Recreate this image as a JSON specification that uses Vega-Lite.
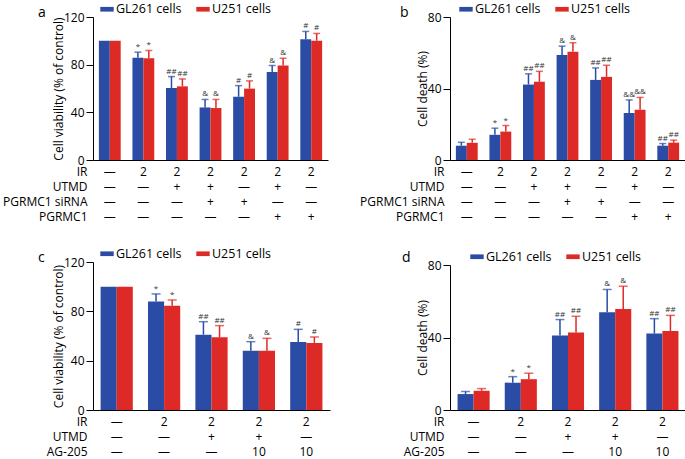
{
  "$schema": "https://vega.github.io/schema/vega-lite/v6.json",
  "background": "white",
  "padding": {"left": 2, "top": 2, "right": 0, "bottom": 0},
  "columns": 2,
  "spacing": {"row": 23, "column": 29},
  "resolve": {"scale": {"x": "independent", "y": "independent", "xOffset": "independent", "color": "independent"}, "legend": {"color": "independent"}},
  "concat": [
    {
      "width": 235, "height": 143,
      "title": {"text": "a", "dx": -55, "dy": 22},
      "data": {"values": [
        {"cond": "—|—|—|—", "cell": "GL261 cells", "value": 100, "err": null, "sig": ""},
        {"cond": "—|—|—|—", "cell": "U251 cells", "value": 100, "err": null, "sig": ""},
        {"cond": "2|—|—|—", "cell": "GL261 cells", "value": 85.7, "err": 90.5, "sig": "*"},
        {"cond": "2|—|—|—", "cell": "U251 cells", "value": 85.4, "err": 91.9, "sig": "*"},
        {"cond": "2|+|—|—", "cell": "GL261 cells", "value": 60.4, "err": 70, "sig": "##"},
        {"cond": "2|+|—|—", "cell": "U251 cells", "value": 61.8, "err": 68, "sig": "##"},
        {"cond": "2|+|+|—", "cell": "GL261 cells", "value": 44.1, "err": 50.8, "sig": "&"},
        {"cond": "2|+|+|—", "cell": "U251 cells", "value": 43.6, "err": 50.8, "sig": "&"},
        {"cond": "2|—|+|—", "cell": "GL261 cells", "value": 53.1, "err": 62.4, "sig": "#"},
        {"cond": "2|—|+|—", "cell": "U251 cells", "value": 59.9, "err": 66.4, "sig": "#"},
        {"cond": "2|+|—|+", "cell": "GL261 cells", "value": 73.9, "err": 79.3, "sig": "&"},
        {"cond": "2|+|—|+", "cell": "U251 cells", "value": 79.3, "err": 85.4, "sig": "&"},
        {"cond": "2|—|—|+", "cell": "GL261 cells", "value": 101.4, "err": 107.9, "sig": "#"},
        {"cond": "2|—|—|+", "cell": "U251 cells", "value": 100.1, "err": 106.2, "sig": "#"}
      ]},
      "encoding": {
        "x": {"field": "cond", "type": "nominal", "sort": null,
          "scale": {"paddingInner": 0.35, "paddingOuter": 0.175},
          "axis": {"title": ["IR", "UTMD", "PGRMC1 siRNA", "PGRMC1"], "titleX": -6, "titleY": 6.5, "titleAlign": "right", "titleBaseline": "top", "titleAngle": 0, "titleFontSize": 12, "titleLineHeight": 15,
            "labelExpr": "split(datum.value, '|')", "labelAngle": 0, "labelBaseline": "top", "labelLineHeight": 15, "labelPadding": 6.5, "labelFontSize": 12, "ticks": false, "tickSize": 0, "labelOverlap": false, "labelFlush": false, "labelBound": false}},
        "xOffset": {"field": "cell", "type": "nominal", "scale": {"domain": ["GL261 cells", "U251 cells"], "paddingInner": 0, "paddingOuter": 0}}
      },
      "layer": [
        {"mark": {"type": "bar"},
          "encoding": {
            "y": {"field": "value", "type": "quantitative", "scale": {"domain": [0, 120], "nice": false},
              "axis": {"values": [0, 40, 80, 120], "title": "Cell viability (% of control)", "titleFontSize": 12, "titlePadding": -2, "labelFontSize": 12, "tickSize": 7, "labelPadding": 2}},
            "color": {"field": "cell", "type": "nominal", "scale": {"domain": ["GL261 cells", "U251 cells"], "range": ["#2A4CA4", "#DE2A26"]},
              "legend": {"title": null, "legendX": 7, "legendY": -15}}
          }},
        {"mark": {"type": "rule", "strokeWidth": 1.5},
          "encoding": {"y": {"field": "value", "type": "quantitative"}, "y2": {"field": "err"}, "color": {"field": "cell", "type": "nominal"}}},
        {"mark": {"type": "tick", "size": 7, "thickness": 1.5},
          "encoding": {"y": {"field": "err", "type": "quantitative"}, "color": {"field": "cell", "type": "nominal"}}},
        {"mark": {"type": "text", "baseline": "bottom", "dy": -1, "fontSize": 8, "color": "#333"},
          "encoding": {"y": {"field": "err", "type": "quantitative"}, "text": {"field": "sig"}}}
      ]
    },
    {
      "width": 235, "height": 143,
      "title": {"text": "b", "dx": -50, "dy": 22},
      "data": {"values": [
        {"cond": "—|—|—|—", "cell": "GL261 cells", "value": 8.0, "err": 9.9, "sig": ""},
        {"cond": "—|—|—|—", "cell": "U251 cells", "value": 9.6, "err": 11.6, "sig": ""},
        {"cond": "2|—|—|—", "cell": "GL261 cells", "value": 14.1, "err": 17.8, "sig": "*"},
        {"cond": "2|—|—|—", "cell": "U251 cells", "value": 15.9, "err": 19.3, "sig": "*"},
        {"cond": "2|+|—|—", "cell": "GL261 cells", "value": 42.2, "err": 48.2, "sig": "##"},
        {"cond": "2|+|—|—", "cell": "U251 cells", "value": 43.8, "err": 49.6, "sig": "##"},
        {"cond": "2|+|+|—", "cell": "GL261 cells", "value": 58.8, "err": 63.7, "sig": "&"},
        {"cond": "2|+|+|—", "cell": "U251 cells", "value": 60.5, "err": 65.6, "sig": "&"},
        {"cond": "2|—|+|—", "cell": "GL261 cells", "value": 44.8, "err": 51.5, "sig": "##"},
        {"cond": "2|—|+|—", "cell": "U251 cells", "value": 46.5, "err": 53.0, "sig": "##"},
        {"cond": "2|+|—|+", "cell": "GL261 cells", "value": 26.3, "err": 33.6, "sig": "&&"},
        {"cond": "2|+|—|+", "cell": "U251 cells", "value": 28.1, "err": 35.0, "sig": "&&"},
        {"cond": "2|—|—|+", "cell": "GL261 cells", "value": 8.0, "err": 9.2, "sig": "##"},
        {"cond": "2|—|—|+", "cell": "U251 cells", "value": 9.7, "err": 11.1, "sig": "##"}
      ]},
      "encoding": {
        "x": {"field": "cond", "type": "nominal", "sort": null,
          "scale": {"paddingInner": 0.35, "paddingOuter": 0.175},
          "axis": {"title": ["IR", "UTMD", "PGRMC1 siRNA", "PGRMC1"], "titleX": -6, "titleY": 6.5, "titleAlign": "right", "titleBaseline": "top", "titleAngle": 0, "titleFontSize": 12, "titleLineHeight": 15,
            "labelExpr": "split(datum.value, '|')", "labelAngle": 0, "labelBaseline": "top", "labelLineHeight": 15, "labelPadding": 6.5, "labelFontSize": 12, "ticks": false, "tickSize": 0, "labelOverlap": false, "labelFlush": false, "labelBound": false}},
        "xOffset": {"field": "cell", "type": "nominal", "scale": {"domain": ["GL261 cells", "U251 cells"], "paddingInner": 0, "paddingOuter": 0}}
      },
      "layer": [
        {"mark": {"type": "bar"},
          "encoding": {
            "y": {"field": "value", "type": "quantitative", "scale": {"domain": [0, 80], "nice": false},
              "axis": {"values": [0, 20, 40, 60, 80], "title": "Cell death (%)", "titleFontSize": 12, "titlePadding": -2, "labelFontSize": 12, "tickSize": 7, "labelPadding": 2}},
            "color": {"field": "cell", "type": "nominal", "scale": {"domain": ["GL261 cells", "U251 cells"], "range": ["#2A4CA4", "#DE2A26"]},
              "legend": {"title": null, "legendX": 9, "legendY": -15}}
          }},
        {"mark": {"type": "rule", "strokeWidth": 1.5},
          "encoding": {"y": {"field": "value", "type": "quantitative"}, "y2": {"field": "err"}, "color": {"field": "cell", "type": "nominal"}}},
        {"mark": {"type": "tick", "size": 7, "thickness": 1.5},
          "encoding": {"y": {"field": "err", "type": "quantitative"}, "color": {"field": "cell", "type": "nominal"}}},
        {"mark": {"type": "text", "baseline": "bottom", "dy": -1, "fontSize": 8, "color": "#333"},
          "encoding": {"y": {"field": "err", "type": "quantitative"}, "text": {"field": "sig"}}}
      ]
    },
    {
      "width": 237, "height": 148,
      "title": {"text": "c", "dx": -55, "dy": 22},
      "data": {"values": [
        {"cond": "—|—|—", "cell": "GL261 cells", "value": 100, "err": null, "sig": ""},
        {"cond": "—|—|—", "cell": "U251 cells", "value": 100, "err": null, "sig": ""},
        {"cond": "2|—|—", "cell": "GL261 cells", "value": 88.0, "err": 94.1, "sig": "*"},
        {"cond": "2|—|—", "cell": "U251 cells", "value": 84.6, "err": 89.2, "sig": "*"},
        {"cond": "2|+|—", "cell": "GL261 cells", "value": 61.1, "err": 71.6, "sig": "##"},
        {"cond": "2|+|—", "cell": "U251 cells", "value": 58.9, "err": 68.4, "sig": "##"},
        {"cond": "2|+|10", "cell": "GL261 cells", "value": 48.1, "err": 55.4, "sig": "&"},
        {"cond": "2|+|10", "cell": "U251 cells", "value": 48.1, "err": 58.1, "sig": "&"},
        {"cond": "2|—|10", "cell": "GL261 cells", "value": 55.2, "err": 65.4, "sig": "#"},
        {"cond": "2|—|10", "cell": "U251 cells", "value": 54.4, "err": 59.2, "sig": "#"}
      ]},
      "encoding": {
        "x": {"field": "cond", "type": "nominal", "sort": null,
          "scale": {"paddingInner": 0.32, "paddingOuter": 0.16},
          "axis": {"title": ["IR", "UTMD", "AG-205"], "titleX": -6, "titleY": 6.5, "titleAlign": "right", "titleBaseline": "top", "titleAngle": 0, "titleFontSize": 12, "titleLineHeight": 15,
            "labelExpr": "split(datum.value, '|')", "labelAngle": 0, "labelBaseline": "top", "labelLineHeight": 15, "labelPadding": 6.5, "labelFontSize": 12, "ticks": false, "tickSize": 0, "labelOverlap": false, "labelFlush": false, "labelBound": false}},
        "xOffset": {"field": "cell", "type": "nominal", "scale": {"domain": ["GL261 cells", "U251 cells"], "paddingInner": 0, "paddingOuter": 0}}
      },
      "layer": [
        {"mark": {"type": "bar"},
          "encoding": {
            "y": {"field": "value", "type": "quantitative", "scale": {"domain": [0, 120], "nice": false},
              "axis": {"values": [0, 40, 80, 120], "title": "Cell viability (% of control)", "titleFontSize": 12, "titlePadding": -2, "labelFontSize": 12, "tickSize": 7, "labelPadding": 2}},
            "color": {"field": "cell", "type": "nominal", "scale": {"domain": ["GL261 cells", "U251 cells"], "range": ["#2A4CA4", "#DE2A26"]},
              "legend": {"title": null, "legendX": 7, "legendY": -15.5}}
          }},
        {"mark": {"type": "rule", "strokeWidth": 1.5},
          "encoding": {"y": {"field": "value", "type": "quantitative"}, "y2": {"field": "err"}, "color": {"field": "cell", "type": "nominal"}}},
        {"mark": {"type": "tick", "size": 9, "thickness": 1.5},
          "encoding": {"y": {"field": "err", "type": "quantitative"}, "color": {"field": "cell", "type": "nominal"}}},
        {"mark": {"type": "text", "baseline": "bottom", "dy": -1, "fontSize": 8, "color": "#333"},
          "encoding": {"y": {"field": "err", "type": "quantitative"}, "text": {"field": "sig"}}}
      ]
    },
    {
      "width": 236, "height": 148,
      "title": {"text": "d", "dx": -48, "dy": 19},
      "data": {"values": [
        {"cond": "—|—|—", "cell": "GL261 cells", "value": 8.8, "err": 10.2, "sig": ""},
        {"cond": "—|—|—", "cell": "U251 cells", "value": 10.6, "err": 11.8, "sig": ""},
        {"cond": "2|—|—", "cell": "GL261 cells", "value": 15.1, "err": 18.4, "sig": "*"},
        {"cond": "2|—|—", "cell": "U251 cells", "value": 17.0, "err": 20.3, "sig": "*"},
        {"cond": "2|+|—", "cell": "GL261 cells", "value": 41.1, "err": 49.9, "sig": "##"},
        {"cond": "2|+|—", "cell": "U251 cells", "value": 42.7, "err": 51.7, "sig": "##"},
        {"cond": "2|+|10", "cell": "GL261 cells", "value": 54.0, "err": 66.5, "sig": "&"},
        {"cond": "2|+|10", "cell": "U251 cells", "value": 55.7, "err": 68.3, "sig": "&"},
        {"cond": "2|—|10", "cell": "GL261 cells", "value": 42.2, "err": 50.4, "sig": "##"},
        {"cond": "2|—|10", "cell": "U251 cells", "value": 43.6, "err": 52.2, "sig": "##"}
      ]},
      "encoding": {
        "x": {"field": "cond", "type": "nominal", "sort": null,
          "scale": {"paddingInner": 0.32, "paddingOuter": 0.16},
          "axis": {"title": ["IR", "UTMD", "AG-205"], "titleX": -6, "titleY": 6.5, "titleAlign": "right", "titleBaseline": "top", "titleAngle": 0, "titleFontSize": 12, "titleLineHeight": 15,
            "labelExpr": "split(datum.value, '|')", "labelAngle": 0, "labelBaseline": "top", "labelLineHeight": 15, "labelPadding": 6.5, "labelFontSize": 12, "ticks": false, "tickSize": 0, "labelOverlap": false, "labelFlush": false, "labelBound": false}},
        "xOffset": {"field": "cell", "type": "nominal", "scale": {"domain": ["GL261 cells", "U251 cells"], "paddingInner": 0, "paddingOuter": 0}}
      },
      "layer": [
        {"mark": {"type": "bar"},
          "encoding": {
            "y": {"field": "value", "type": "quantitative", "scale": {"domain": [0, 80], "nice": false, "range": [148, 3]},
              "axis": {"values": [0, 20, 40, 60, 80], "title": "Cell death (%)", "titleFontSize": 12, "titlePadding": -2, "labelFontSize": 12, "tickSize": 7, "labelPadding": 2}},
            "color": {"field": "cell", "type": "nominal", "scale": {"domain": ["GL261 cells", "U251 cells"], "range": ["#2A4CA4", "#DE2A26"]},
              "legend": {"title": null, "legendX": 20, "legendY": -12.5}}
          }},
        {"mark": {"type": "rule", "strokeWidth": 1.5},
          "encoding": {"y": {"field": "value", "type": "quantitative"}, "y2": {"field": "err"}, "color": {"field": "cell", "type": "nominal"}}},
        {"mark": {"type": "tick", "size": 9, "thickness": 1.5},
          "encoding": {"y": {"field": "err", "type": "quantitative"}, "color": {"field": "cell", "type": "nominal"}}},
        {"mark": {"type": "text", "baseline": "bottom", "dy": -1, "fontSize": 8, "color": "#333"},
          "encoding": {"y": {"field": "err", "type": "quantitative"}, "text": {"field": "sig"}}}
      ]
    }
  ],
  "config": {
    "font": "Open Sans",
    "view": {"stroke": null},
    "axis": {"grid": false, "domainColor": "#000", "tickColor": "#000", "labelColor": "#000", "titleColor": "#000", "titleFontWeight": "normal", "labelFont": "Open Sans", "titleFont": "Open Sans"},
    "title": {"fontWeight": "normal", "fontSize": 14, "anchor": "start", "frame": "group", "color": "#000", "font": "Open Sans"},
    "legend": {"orient": "none", "direction": "horizontal", "labelFontSize": 12.5, "labelColor": "#000", "labelFont": "Open Sans", "symbolType": "M-1,-0.35H1V0.35H-1Z", "symbolSize": 180, "symbolStrokeWidth": 0, "symbolOpacity": 1, "labelOffset": 2, "columnPadding": 14}
  }
}
